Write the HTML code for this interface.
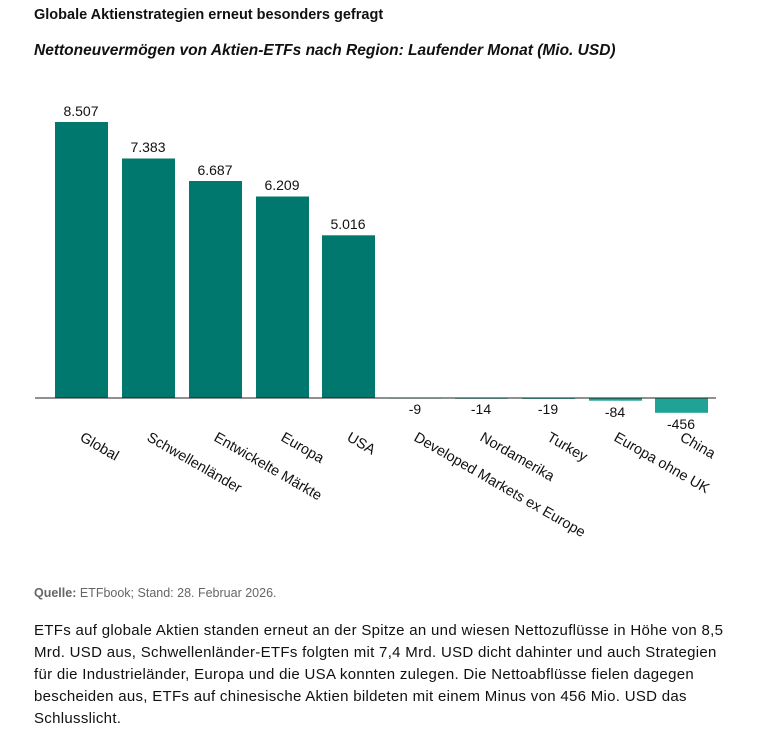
<!DOCTYPE html>
<html><head><meta charset="utf-8"><style>
body{margin:0;background:#fff;font-family:"Liberation Sans",sans-serif;color:#111;}
.wrap{position:relative;width:775px;height:743px;overflow:hidden}
.t1{position:absolute;left:34px;top:7px;font-size:14.5px;font-weight:bold;}
.t2{position:absolute;left:34px;top:42px;font-size:15.5px;font-style:italic;font-weight:bold;}
.src{position:absolute;left:34px;top:586px;font-size:12.5px;color:#666}
.txt{position:absolute;left:34px;top:620px;width:740px;font-size:15px;line-height:22px;letter-spacing:0.3px;color:#111;white-space:nowrap}
svg{position:absolute;left:0;top:0}
</style></head><body><div class="wrap">
<div class="t1">Globale Aktienstrategien erneut besonders gefragt</div>
<div class="t2">Nettoneuvermögen von Aktien-ETFs nach Region: Laufender Monat (Mio. USD)</div>
<svg width="775" height="743" font-family="Liberation Sans, sans-serif" font-size="14" fill="#111">
<g fill="#00786e">
<rect x="55" y="122" width="53" height="276"/>
<rect x="122" y="158.5" width="53" height="239.5"/>
<rect x="189" y="181" width="53" height="217"/>
<rect x="256" y="196.5" width="53" height="201.5"/>
<rect x="322" y="235.3" width="53" height="162.7"/>
</g>
<g fill="#1fa396">
<rect x="389" y="398" width="53" height="0.6"/>
<rect x="455" y="398" width="53" height="0.8"/>
<rect x="522" y="398" width="53" height="0.9"/>
<rect x="589" y="398" width="53" height="2.7"/>
<rect x="655" y="398" width="53" height="14.8"/>
</g>
<line x1="35" y1="398" x2="716" y2="398" stroke="#222" stroke-width="1"/>
<g text-anchor="middle">
<text x="81" y="116">8.507</text><text x="148" y="152">7.383</text><text x="215" y="175">6.687</text>
<text x="282" y="190">6.209</text><text x="348" y="229">5.016</text>
<text x="415" y="414">-9</text><text x="481" y="414">-14</text><text x="548" y="414">-19</text>
<text x="615" y="417">-84</text><text x="681" y="429">-456</text>
</g>
<g font-size="14.5">
<text transform="translate(79,440) rotate(30)">Global</text>
<text transform="translate(146,440) rotate(30)">Schwellenländer</text>
<text transform="translate(213,440) rotate(30)">Entwickelte Märkte</text>
<text transform="translate(280,440) rotate(30)">Europa</text>
<text transform="translate(346,440) rotate(30)">USA</text>
<text transform="translate(413,440) rotate(30)">Developed Markets ex Europe</text>
<text transform="translate(479,440) rotate(30)">Nordamerika</text>
<text transform="translate(546,440) rotate(30)">Turkey</text>
<text transform="translate(613,440) rotate(30)">Europa ohne UK</text>
<text transform="translate(679,440) rotate(30)">China</text>
</g>
</svg>
<div class="src"><b>Quelle:</b> ETFbook; Stand: 28. Februar 2026.</div>
<div class="txt">ETFs auf globale Aktien standen erneut an der Spitze an und wiesen Nettozuflüsse in Höhe von 8,5<br>Mrd. USD aus, Schwellenländer-ETFs folgten mit 7,4 Mrd. USD dicht dahinter und auch Strategien<br>für die Industrieländer, Europa und die USA konnten zulegen. Die Nettoabflüsse fielen dagegen<br>bescheiden aus, ETFs auf chinesische Aktien bildeten mit einem Minus von 456 Mio. USD das<br>Schlusslicht.</div>
</div></body></html>
